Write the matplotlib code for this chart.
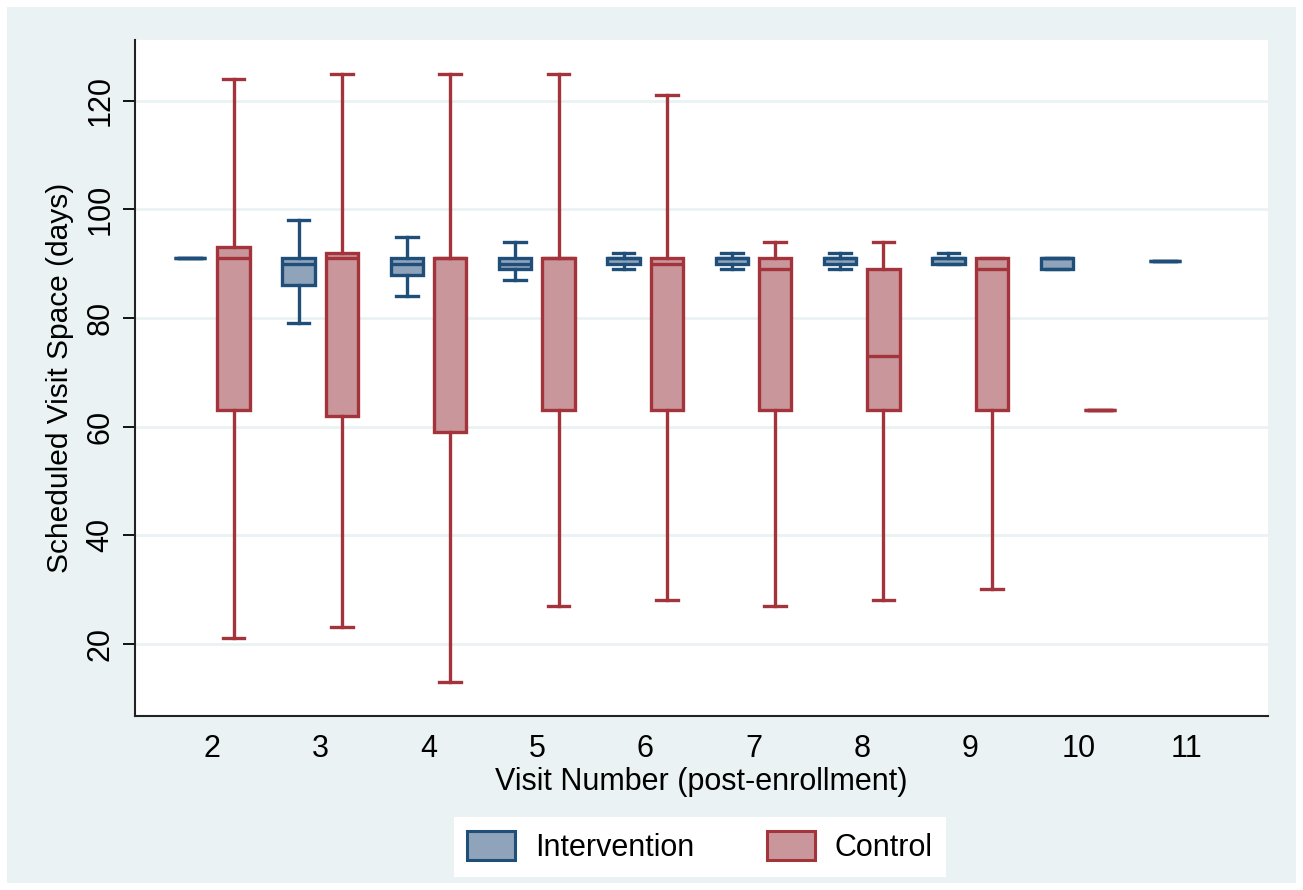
import numpy as np
import matplotlib
matplotlib.use("Agg")
import matplotlib.pyplot as plt
from matplotlib.patches import Patch, Rectangle

plt.rcParams['font.family'] = ['Liberation Sans', 'DejaVu Sans']

# visits after enrollment
visits = [2, 3, 4, 5, 6, 7, 8, 9, 10, 11]

# Intervention arm: whisker low, Q1, median, Q3, whisker high (days)
int_lo  = [91, 79, 84, 87, 89, 89, 89, 90, 89, 90.5]
int_q1  = [91, 86, 88, 89, 90, 90, 90, 90, 89, 90.5]
int_med = [91, 90, 90, 90, 91, 91, 91, 91, 91, 90.5]
int_q3  = [91, 91, 91, 91, 91, 91, 91, 91, 91, 90.5]
int_hi  = [91, 98, 95, 94, 92, 92, 92, 92, 91, 90.5]

# Control arm (no data at visit 11)
ctl_lo  = [21, 23, 13, 27, 28, 27, 28, 30, 63, None]
ctl_q1  = [63, 62, 59, 63, 63, 63, 63, 63, 63, None]
ctl_med = [91, 91, 91, 91, 90, 89, 73, 89, 63, None]
ctl_q3  = [93, 92, 91, 91, 91, 91, 89, 91, 63, None]
ctl_hi  = [124, 125, 125, 125, 121, 94, 94, 91, 63, None]

bg = '#eaf2f3'
int_edge, int_fill = '#1f4e79', '#8fa3ba'
ctl_edge, ctl_fill = '#a3343c', '#c9979b'
fs = 22


def make_stats(lo, q1, med, q3, hi):
    out, pos = [], []
    for v, a, b, c, d, e in zip(visits, lo, q1, med, q3, hi):
        if a is None:
            continue
        out.append(dict(whislo=a, q1=b, med=c, q3=d, whishi=e, fliers=[]))
        pos.append(v)
    return out, pos


fig = plt.figure(figsize=(13.03, 8.90), dpi=100, facecolor='white')
fig.patches.append(Rectangle((7 / 1303, 7 / 890), 1289 / 1303, 876 / 890,
                             transform=fig.transFigure, facecolor=bg,
                             edgecolor='none', zorder=-10))
ax = fig.add_axes([135 / 1303, 174 / 890, 1133 / 1303, 676 / 890])
ax.set_facecolor('white')

off = 0.2
for stats_args, edge, fill, sign in [
        ((int_lo, int_q1, int_med, int_q3, int_hi), int_edge, int_fill, -1),
        ((ctl_lo, ctl_q1, ctl_med, ctl_q3, ctl_hi), ctl_edge, ctl_fill, 1)]:
    stats, pos = make_stats(*stats_args)
    pos = [p + sign * off for p in pos]
    ax.bxp(stats, positions=pos, widths=0.3, capwidths=0.2,
           patch_artist=True, showfliers=False, manage_ticks=False,
           boxprops=dict(facecolor=fill, edgecolor=edge, linewidth=2.4),
           medianprops=dict(color=edge, linewidth=2.4),
           whiskerprops=dict(color=edge, linewidth=2.4),
           capprops=dict(color=edge, linewidth=2.4))

ax.set_xlim(1.29, 11.75)
ax.set_ylim(6.7, 131.2)
ax.set_yticks([20, 40, 60, 80, 100, 120])
ax.set_xticks(visits)
ax.grid(axis='y', color=bg, linewidth=2)
ax.set_axisbelow(True)

for s in ['top', 'right']:
    ax.spines[s].set_visible(False)
for s in ['left', 'bottom']:
    ax.spines[s].set_color('#222222')
    ax.spines[s].set_linewidth(1.5)

ax.tick_params(axis='y', length=9, width=1.3, labelsize=fs, pad=5,
               labelrotation=90)
for lab in ax.get_yticklabels():
    lab.set_va('center')
ax.tick_params(axis='x', length=0, labelsize=fs, pad=13)

ax.set_ylabel('Scheduled Visit Space (days)', fontsize=21.5, labelpad=8)
ax.set_xlabel('Visit Number (post-enrollment)', fontsize=fs, labelpad=2)

handles = [Patch(facecolor=int_fill, edgecolor=int_edge, linewidth=2.2,
                 label='Intervention'),
           Patch(facecolor=ctl_fill, edgecolor=ctl_edge, linewidth=2.2,
                 label='Control')]
fig.legend(handles=handles, loc='center', ncol=2,
           bbox_to_anchor=(700 / 1303, 43 / 890), frameon=True,
           facecolor='white', edgecolor='none', fancybox=False,
           fontsize=fs, handlelength=1.55, handleheight=1.1,
           columnspacing=2.4, handletextpad=0.65, borderpad=0.45,
           framealpha=1)

fig.savefig('out.png', dpi=100, facecolor=fig.get_facecolor())
